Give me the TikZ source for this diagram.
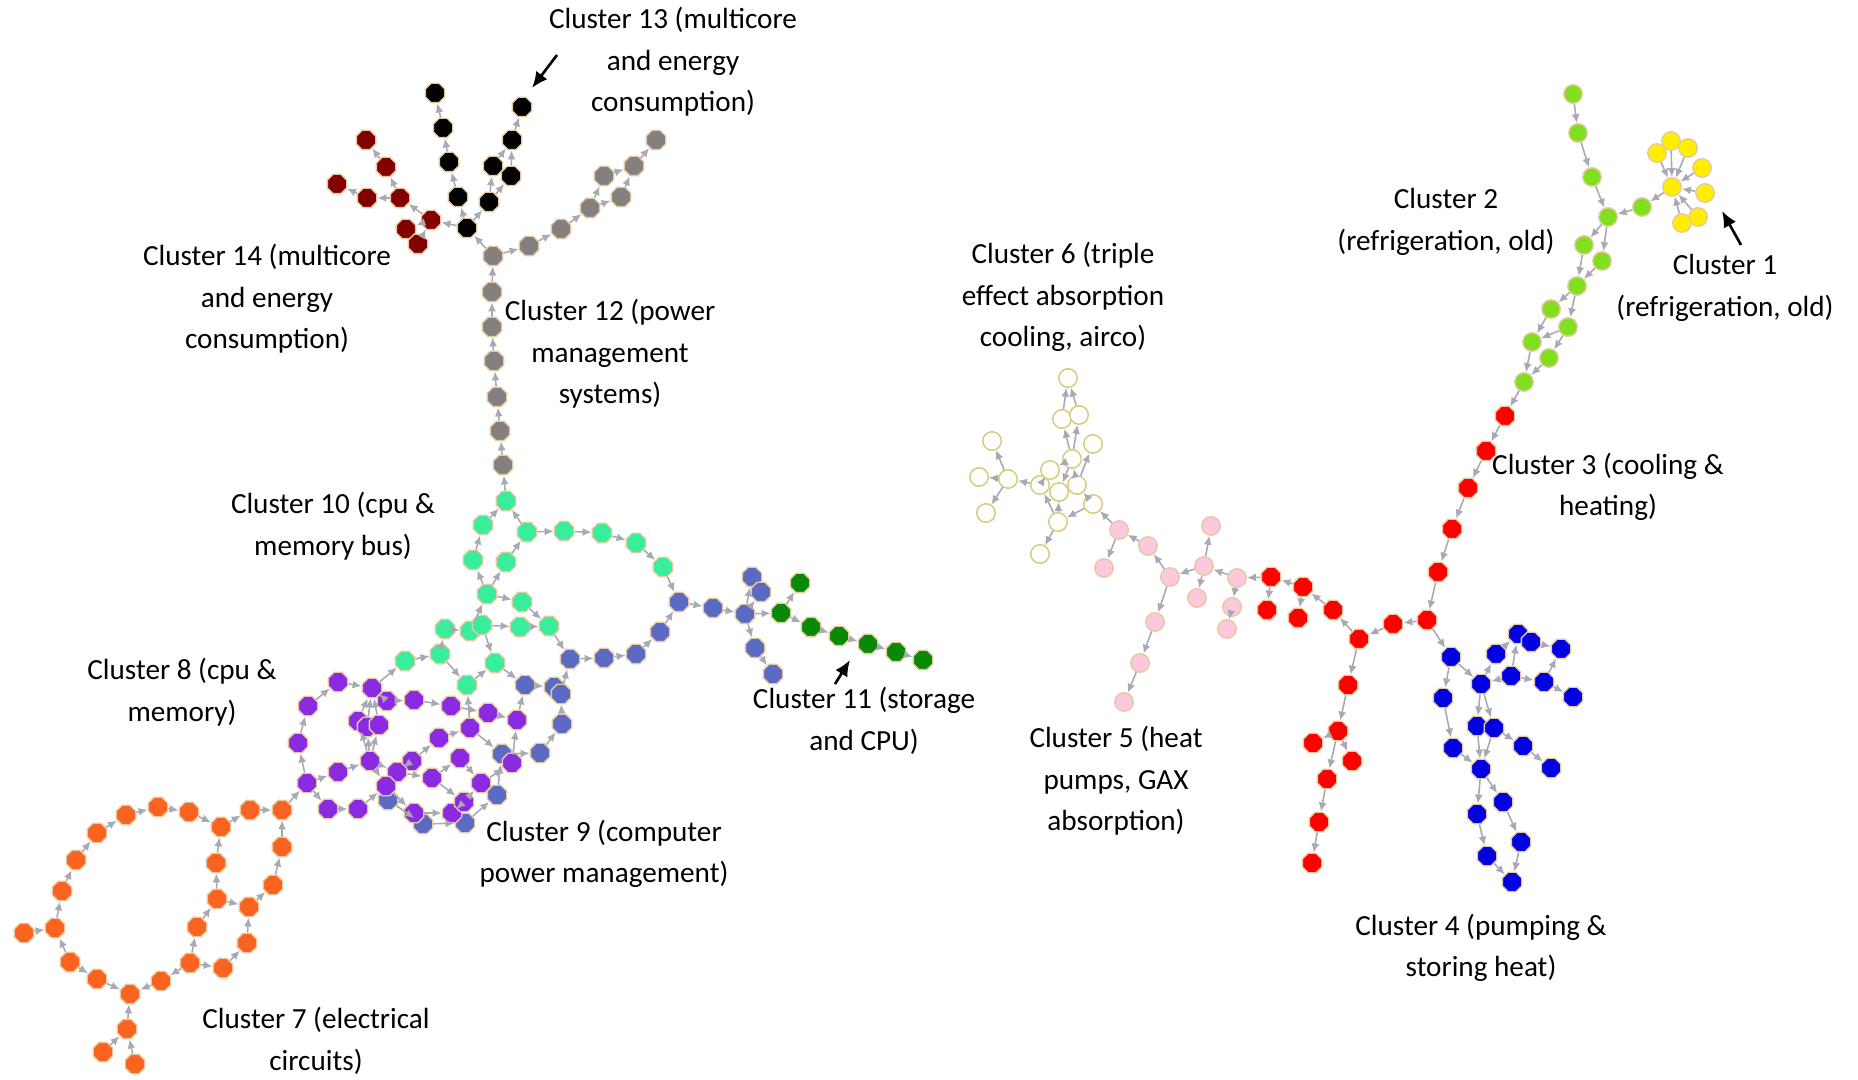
\documentclass[tikz,border=0pt]{standalone}
\usepackage{fontspec}
\setmainfont{Carlito}
\usetikzlibrary{shapes.geometric,arrows.meta}
\definecolor{edgegray}{HTML}{A9A9B4}
\definecolor{rim}{HTML}{E6C9A0}
\definecolor{ctreize}{HTML}{000000}
\definecolor{cquatorze}{HTML}{820000}
\definecolor{cdouze}{HTML}{858080}
\definecolor{cdix}{HTML}{38EE9C}
\definecolor{conze}{HTML}{088A08}
\definecolor{cneuf}{HTML}{5B6BC4}
\definecolor{chuit}{HTML}{8A2BE2}
\definecolor{csept}{HTML}{FA6420}
\definecolor{csixrim}{HTML}{D8C878}
\definecolor{ccinq}{HTML}{FCC8DC}
\definecolor{ctrois}{HTML}{FF0000}
\definecolor{cquatre}{HTML}{0000E0}
\definecolor{cdeux}{HTML}{80E020}
\definecolor{cun}{HTML}{FFEE00}

\begin{document}
\begin{tikzpicture}[x=0.01cm,y=-0.01cm]
        \tikzstyle{vtx}=[regular polygon, regular polygon sides=8, minimum size=2.1mm, inner sep=0pt, draw=rim, line width=0.4pt]
        \tikzstyle{rnd}=[circle, minimum size=1.85mm, inner sep=0pt, draw=rim, line width=0.4pt]
        \tikzstyle{lnk}=[draw=edgegray, line width=0.45pt, -{Latex[length=0.9mm,width=0.8mm]}]
        \tikzstyle{lbl}=[font=\fontsize{8.3}{11.8}\selectfont, align=center, inner sep=0pt]
        \tikzstyle{pointer}=[line width=0.75pt, -{Latex[length=1.6mm,width=1.4mm]}]
        \useasboundingbox (0,0) rectangle (1858,1080);

        % cluster 13
        \foreach \n/\x/\y in {bk1/467/228, bk2/458/197, bk3/449/162, bk4/443/128, bk5/435/93,
                bk6/489/202, bk7/493/166, bk8/511/176, bk9/512/140, bk10/522/107}
            \node[vtx, fill=ctreize] (\n) at (\x,\y) {};
        % cluster 14
        \foreach \n/\x/\y in {br1/431/220, br2/400/198, br3/386/167, br4/366/140, br5/367/198,
                br6/337/184, br7/406/229, br8/418/244}
            \node[vtx, fill=cquatorze] (\n) at (\x,\y) {};
        % cluster 12
        \foreach \n/\x/\y in {gy1/493/256, gy2/529/246, gy3/561/229, gy4/590/208, gy5/604/176,
                gy6/634/166, gy7/656/140, gy8/621/197, gy9/492/292, gy10/492/327, gy11/494/361,
                gy12/497/397, gy13/500/431, gy14/503/465}
            \node[vtx, fill=cdouze] (\n) at (\x,\y) {};
        % cluster 10
        \foreach \n/\x/\y in {sg1/506/501, sg2/483/525, sg3/527/532, sg4/564/531, sg5/602/533,
                sg6/636/543, sg7/663/567, sg8/473/560, sg9/506/562, sg10/487/594, sg11/522/602,
                sg12/445/629, sg13/470/631, sg14/482/625, sg15/520/627, sg16/549/626,
                sg17/405/661, sg18/440/654, sg19/495/663, sg20/467/685}
            \node[vtx, fill=cdix] (\n) at (\x,\y) {};
        % cluster 11
        \foreach \n/\x/\y in {dg1/781/613, dg2/800/583, dg3/811/627, dg4/839/636, dg5/868/644,
                dg6/896/652, dg7/923/660}
            \node[vtx, fill=conze] (\n) at (\x,\y) {};
        % cluster 9
        \foreach \n/\x/\y in {sb1/679/602, sb2/713/608, sb3/745/614, sb4/752/577, sb5/761/592,
                sb6/755/648, sb7/773/674, sb8/660/632, sb9/570/659, sb10/604/658, sb11/636/654,
                sb12/525/685, sb13/554/687, sb14/561/694, sb15/562/724, sb16/540/753,
                sb17/502/754, sb18/497/795, sb19/388/800, sb20/423/824, sb21/465/823}
            \node[vtx, fill=cneuf] (\n) at (\x,\y) {};
        % cluster 8
        \foreach \n/\x/\y in {pu1/338/682, pu2/372/688, pu3/308/706, pu4/387/701, pu5/414/700,
                pu6/451/706, pu7/488/713, pu8/517/720, pu9/358/721, pu10/367/727, pu11/379/725,
                pu12/298/743, pu13/470/728, pu14/439/738, pu15/370/761, pu16/412/761,
                pu17/460/758, pu18/338/772, pu19/397/772, pu20/432/778, pu21/512/763,
                pu22/307/783, pu23/386/786, pu24/481/783, pu25/328/809, pu26/358/809,
                pu27/414/813, pu28/452/813, pu29/464/802}
            \node[vtx, fill=chuit] (\n) at (\x,\y) {};
        % cluster 7
        \foreach \n/\x/\y in {or1/282/810, or2/250/810, or3/221/827, or4/189/812, or5/158/807,
                or6/126/815, or7/97/833, or8/76/860, or9/62/891, or10/55/928, or11/24/933,
                or12/70/962, or13/97/979, or14/130/994, or15/161/981, or16/190/963,
                or17/223/968, or18/247/943, or19/249/907, or20/273/885, or21/282/847,
                or22/216/863, or23/217/899, or24/197/927, or25/127/1029, or26/103/1052,
                or27/135/1064}
            \node[vtx, fill=csept] (\n) at (\x,\y) {};
        % cluster 6
        \foreach \n/\x/\y in {wh1/1068/378, wh2/1062/419, wh3/1079/415, wh4/1093/444,
                wh5/1072/459, wh6/992/441, wh7/979/477, wh8/1008/479, wh9/986/513,
                wh10/1040/485, wh11/1050/470, wh12/1059/492, wh13/1077/485, wh14/1058/522,
                wh15/1093/504, wh16/1040/554}
            \node[rnd, fill=white, draw=csixrim] (\n) at (\x,\y) {};
        % cluster 5
        \foreach \n/\x/\y in {pk1/1119/530, pk2/1148/546, pk3/1104/568, pk4/1170/577,
                pk5/1204/566, pk6/1211/526, pk7/1197/598, pk8/1237/578, pk9/1232/607,
                pk10/1227/629, pk11/1155/622, pk12/1140/663, pk13/1124/702}
            \node[rnd, fill=ccinq] (\n) at (\x,\y) {};
        % cluster 3
        \foreach \n/\x/\y in {rd1/1505/416, rd2/1486/451, rd3/1468/488, rd4/1452/529,
                rd5/1438/572, rd6/1427/620, rd7/1393/624, rd8/1359/639, rd9/1333/610,
                rd10/1303/587, rd11/1271/577, rd12/1267/610, rd13/1298/618, rd14/1348/685,
                rd15/1338/731, rd16/1313/743, rd17/1352/761, rd18/1327/779, rd19/1319/822,
                rd20/1312/863}
            \node[vtx, fill=ctrois] (\n) at (\x,\y) {};
        % cluster 4
        \foreach \n/\x/\y in {bl1/1451/657, bl2/1443/698, bl3/1453/748, bl4/1481/684,
                bl5/1496/654, bl6/1511/676, bl7/1518/634, bl8/1531/642, bl9/1561/649,
                bl10/1544/682, bl11/1573/697, bl12/1477/726, bl13/1494/728, bl14/1523/746,
                bl15/1551/768, bl16/1481/769, bl17/1503/802, bl18/1477/814, bl19/1521/842,
                bl20/1487/856, bl21/1512/882}
            \node[vtx, fill=cquatre] (\n) at (\x,\y) {};
        % cluster 2
        \foreach \n/\x/\y in {lg1/1573/94, lg2/1578/133, lg3/1592/177, lg4/1608/217,
                lg5/1642/207, lg6/1584/245, lg7/1602/261, lg8/1577/286, lg9/1551/309,
                lg10/1568/327, lg11/1532/342, lg12/1549/358, lg13/1524/382}
            \node[rnd, fill=cdeux] (\n) at (\x,\y) {};
        % cluster 1
        \foreach \n/\x/\y in {ye1/1672/187, ye2/1657/153, ye3/1671/141, ye4/1688/148,
                ye5/1702/168, ye6/1705/193, ye7/1698/217, ye8/1682/223}
            \node[rnd, fill=cun] (\n) at (\x,\y) {};

        % links
        \foreach \a/\b in {bk1/bk2, bk2/bk3, bk3/bk4, bk4/bk5, bk1/bk6, bk6/bk7, bk7/bk9,
                bk9/bk10, bk6/bk8, bk8/bk9, bk1/br1, br1/br2, br2/br3, br3/br4, br2/br5,
                br5/br6, br1/br7, br8/br1, gy1/bk1, gy1/gy2, gy2/gy3, gy3/gy4, gy4/gy5,
                gy5/gy6, gy6/gy7, gy4/gy8, gy8/gy6, gy9/gy1, gy10/gy9, gy11/gy10,
                gy12/gy11, gy13/gy12, gy14/gy13, sg1/gy14}
            \draw[lnk] (\a) -- (\b);
        \foreach \a/\b in {sg2/sg1, sg3/sg1, sg3/sg4, sg4/sg5, sg5/sg6, sg6/sg7, sg7/sb1,
                sg8/sg2, sg9/sg3, sg10/sg8, sg10/sg9, sg10/sg11, sg11/sg16, sg14/sg15,
                sg15/sg16, sg12/sg13, sg13/sg10, sg18/sg12, sg17/sg18, sg14/sg19,
                sg18/sg20, sg20/sg19, sg19/sb12, sg16/sb9, pu2/sg17, pu13/sg20}
            \draw[lnk] (\a) -- (\b);
        \foreach \a/\b in {sb1/sb2, sb2/sb3, sb3/dg1, sb3/sb4, sb3/sb5, sb3/sb6, sb6/sb7,
                sb8/sb1, sb11/sb8, sb10/sb11, sb9/sb10, sb12/sb13, sb14/sb9, sb15/sb14,
                sb16/sb15, sb17/sb16, sb18/sb17, sb19/sb20, sb20/sb21, sb21/sb18, pu8/sb12,
                pu13/sb17, dg1/dg2, dg1/dg3, dg3/dg4, dg4/dg5, dg5/dg6, dg6/dg7}
            \draw[lnk] (\a) -- (\b);
        \foreach \a/\b in {or1/pu22, pu22/pu12, pu12/pu3, pu3/pu1, pu1/pu2, pu22/pu18,
                pu18/pu15, pu22/pu25, pu25/pu26, pu26/pu23, pu15/pu9, pu15/pu10, pu15/pu11,
                pu9/pu2, pu10/pu2, pu11/pu2, pu2/pu4, pu4/pu5, pu5/pu6, pu6/pu7, pu7/pu8,
                pu15/pu19, pu15/pu23, pu23/pu27, pu19/pu16, pu16/pu14, pu14/pu13,
                pu19/pu20, pu20/pu17, pu17/pu24, pu20/pu29, pu27/pu28, pu28/pu29,
                pu29/pu24, pu24/pu21, pu21/pu8}
            \draw[lnk] (\a) -- (\b);
        \foreach \a/\b in {or11/or10, or10/or9, or9/or8, or8/or7, or7/or6, or6/or5, or5/or4,
                or4/or3, or3/or2, or2/or1, or22/or3, or23/or22, or23/or19, or24/or23,
                or16/or24, or12/or10, or12/or13, or13/or14, or15/or14, or16/or15,
                or16/or17, or17/or18, or18/or19, or19/or20, or20/or21, or21/or1,
                or25/or14, or26/or25, or27/or25}
            \draw[lnk] (\a) -- (\b);
        \foreach \a/\b in {wh5/wh2, wh2/wh1, wh5/wh3, wh3/wh1, wh13/wh4, wh15/wh14,
                wh14/wh16, wh14/wh10, wh14/wh12, wh5/wh11, wh5/wh12, wh10/wh8, wh8/wh6,
                wh8/wh7, wh8/wh9, wh15/wh13, wh13/wh5, wh11/wh10, pk1/wh15,
                rd11/pk8, pk8/pk5, pk8/pk9, pk9/pk10, pk5/pk6, pk5/pk7, pk5/pk4, pk4/pk2,
                pk2/pk1, pk1/pk3, pk4/pk11, pk11/pk12, pk12/pk13}
            \draw[lnk] (\a) -- (\b);
        \foreach \a/\b in {rd1/rd2, rd2/rd3, rd3/rd4, rd4/rd5, rd5/rd6, rd6/rd7, rd7/rd8,
                rd8/rd9, rd9/rd10, rd10/rd11, rd11/rd12, rd10/rd13, rd8/rd14, rd14/rd15,
                rd15/rd16, rd15/rd17, rd15/rd18, rd18/rd19, rd19/rd20, rd6/bl1,
                bl1/bl4, bl1/bl2, bl2/bl3, bl3/bl16, bl4/bl5, bl5/bl7, bl6/bl4, bl6/bl7,
                bl8/bl9, bl6/bl10, bl10/bl9, bl10/bl11, bl4/bl12, bl12/bl16, bl4/bl13,
                bl13/bl16, bl13/bl14, bl14/bl15, bl16/bl18, bl18/bl20, bl20/bl21,
                bl16/bl17, bl17/bl19, bl19/bl21}
            \draw[lnk] (\a) -- (\b);
        \foreach \a/\b in {lg1/lg2, lg2/lg3, lg3/lg4, lg5/lg4, ye1/lg5, lg4/lg6, lg6/lg8,
                lg4/lg7, lg7/lg8, lg8/lg9, lg9/lg11, lg11/lg13, lg8/lg10, lg10/lg12,
                lg12/lg13, lg10/lg11, lg13/rd1, ye2/ye1, ye3/ye1, ye4/ye1, ye5/ye1,
                ye6/ye1, ye7/ye1, ye8/ye1}
            \draw[lnk] (\a) -- (\b);

        % labels
        \node[lbl] (l13) at (673,62) {Cluster 13 (multicore\\and energy\\consumption)};
        \node[lbl] (l14) at (267,299) {Cluster 14 (multicore\\and energy\\consumption)};
        \node[lbl] (l12) at (610,354) {Cluster 12 (power\\management\\systems)};
        \node[lbl] (l10) at (333,526) {Cluster 10 (cpu \&\\memory bus)};
        \node[lbl] (l8) at (182,692) {Cluster 8 (cpu \&\\memory)};
        \node[lbl] (l11) at (864,721) {Cluster 11 (storage\\and CPU)};
        \node[lbl] (l9) at (604,854) {Cluster 9 (computer\\power management)};
        \node[lbl] (l7) at (316,1041) {Cluster 7 (electrical\\circuits)};
        \node[lbl] (l6) at (1063,297) {Cluster 6 (triple\\effect absorption\\cooling, airco)};
        \node[lbl] (l5) at (1116,781) {Cluster 5 (heat\\pumps, GAX\\absorption)};
        \node[lbl] (l4) at (1481,948) {Cluster 4 (pumping \&\\storing heat)};
        \node[lbl] (l3) at (1608,487) {Cluster 3 (cooling \&\\heating)};
        \node[lbl] (l2) at (1446,222) {Cluster 2\\(refrigeration, old)};
        \node[lbl] (l1) at (1725,288) {Cluster 1\\(refrigeration, old)};

        \coordinate (p13a) at (557,55);
        \coordinate (p13b) at (532,88);
        \coordinate (p11a) at (835,684);
        \coordinate (p11b) at (850,660);
        \coordinate (p1a) at (1741,245);
        \coordinate (p1b) at (1722,211);
        \draw[pointer] (p13a) -- (p13b);
        \draw[pointer] (p11a) -- (p11b);
        \draw[pointer] (p1a) -- (p1b);
    \end{tikzpicture}
\end{document}
